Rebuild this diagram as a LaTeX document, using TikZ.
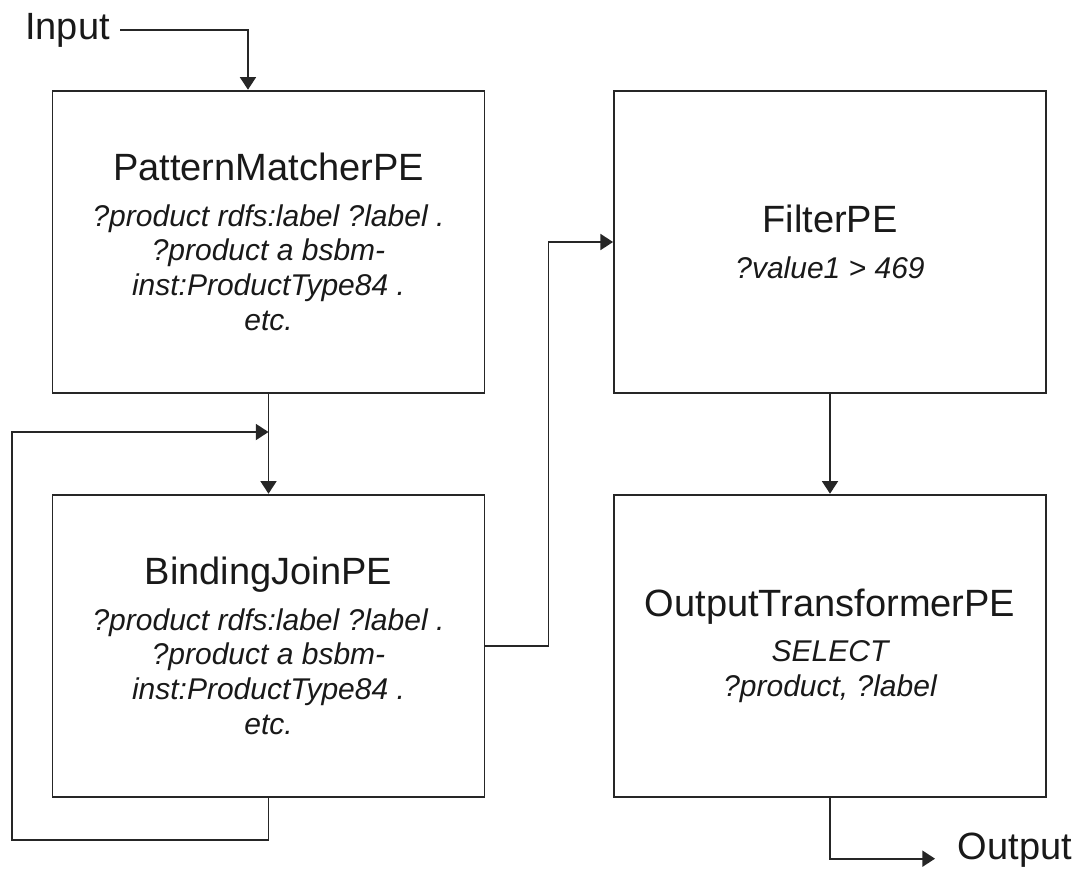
\documentclass[tikz,border=0pt]{standalone}
\usepackage{fontspec}
\setmainfont{Liberation Sans}
\usetikzlibrary{arrows.meta}

% name of a processing element, set upright and larger
\newcommand{\pename}[1]{{\upshape\fontsize{28.5}{34}\selectfont #1}}

\begin{document}
\begin{tikzpicture}[x=0.75pt, y=-0.75pt,
    pebox/.style={draw=black!85, line width=1.4pt, minimum width=324pt,
        minimum height=227pt, align=center, text=black!90,
        font=\fontsize{22.5}{26}\selectfont\itshape},
    lbl/.style={inner sep=0pt, text=black!90, font=\fontsize{28.5}{34}\selectfont},
    flow/.style={draw=black!85, line width=1.4pt, -{Triangle[length=9.5pt,width=12pt]}}]

    % Frame
    \useasboundingbox (0,0) rectangle (1081,872);

    % Processing elements
    \node[pebox] (pm) at (268.5,242) {\pename{PatternMatcherPE}\\[8pt]
        ?product rdfs:label ?label .\\ ?product a bsbm-\\ inst:ProductType84 .\\ etc.};
    \node[pebox] (bj) at (268.5,646) {\pename{BindingJoinPE}\\[8pt]
        ?product rdfs:label ?label .\\ ?product a bsbm-\\ inst:ProductType84 .\\ etc.};
    \node[pebox] (filter) at (830,242) {\pename{FilterPE}\\[8pt] ?value1 > 469};
    \node[pebox] (ot) at (830,646) {\pename{OutputTransformerPE}\\[8pt]
        SELECT\\ ?product, ?label};

    % Input and output labels
    \node[lbl] (in) at (67.5,30) {Input};
    \node[lbl] (out) at (1015,850) {Output};

    % Corner of the feedback loop
    \coordinate (back) at (12,432);

    % Connectors
    \draw[flow, shorten <=7.5pt] (in.east) -| ([xshift=-15.4pt]pm.north);
    \draw[flow] (pm.south) -- (bj.north);
    \draw[flow] (bj.south) -- ++(0,42) -| (back) -- (back -| pm.south);
    \draw[flow] (bj.east) -- ++(63,0) |- (filter.west);
    \draw[flow] (filter.south) -- (ot.north);
    \draw[flow, shorten >=17pt] (ot.south) |- ([yshift=-6.5pt]out.west);
\end{tikzpicture}
\end{document}
